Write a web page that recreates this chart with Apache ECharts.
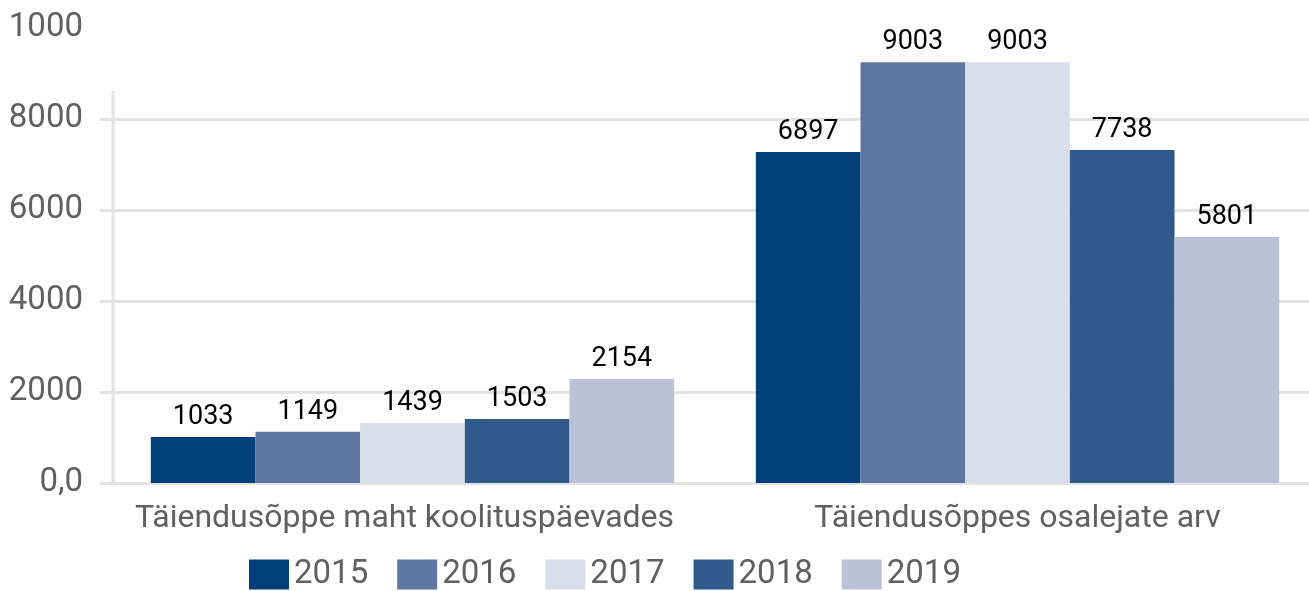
<!DOCTYPE html>
<html>
<head>
<meta charset="utf-8">
<script src="https://cdn.jsdelivr.net/npm/echarts@6/dist/echarts.min.js"></script>
<style>
  html, body { margin: 0; padding: 0; background: #fff; overflow: hidden; }
  #chart { width: 1320px; height: 591px; }
</style>
</head>
<body>
<div id="chart"></div>
<script>
// categories and series (bar heights as drawn, label texts as printed)
var categories = ['Täiendusõppe maht koolituspäevades', 'Täiendusõppes osalejate arv'];
var years = ['2015', '2016', '2017', '2018', '2019'];
var colors = ['#003f78', '#5e76a1', '#d9deea', '#30598c', '#bbc2d8'];
var heights2015 = [1010, 7275];
var heights2016 = [1125, 9250];
var heights2017 = [1320, 9250];
var heights2018 = [1405, 7320];
var heights2019 = [2285, 5405];
var labels2015 = ['1033', '6897'];
var labels2016 = ['1149', '9003'];
var labels2017 = ['1439', '9003'];
var labels2018 = ['1503', '7738'];
var labels2019 = ['2154', '5801'];
var yTickValues = [0, 2000, 4000, 6000, 8000, 10000];
var yTickLabels = ['0,0', '2000', '4000', '6000', '8000', '1000'];

var heights = [heights2015, heights2016, heights2017, heights2018, heights2019];
var labelTexts = [labels2015, labels2016, labels2017, labels2018, labels2019];

var FONT = 'Roboto';
var GRAY = '#606060';
var chart = echarts.init(document.getElementById('chart'));

var series = [];
for (var i = 0; i < years.length; i++) {
    (function(idx){
        series.push({
            name: years[idx],
            type: 'bar',
            barGap: '0%',
            barCategoryGap: '13.5%',
            itemStyle: { color: colors[idx] },
            label: {
                show: true,
                position: 'top',
                distance: 6,
                color: '#000',
                fontFamily: FONT,
                fontSize: 27,
                formatter: function(p){ return labelTexts[idx][p.dataIndex]; }
            },
            data: heights[idx]
        });
    })(i);
}

chart.setOption({
    animation: false,
    grid: { left: 110, top: 28, width: 1210, height: 455, containLabel: false },
    legend: {
        left: 249,
        top: 558,
        padding: 0,
        itemWidth: 40,
        itemHeight: 30,
        itemGap: 29,
        icon: 'rect',
        textStyle: { color: GRAY, fontFamily: FONT, fontSize: 33 },
        data: years
    },
    xAxis: {
        type: 'category',
        data: categories,
        axisLine: { show: true, lineStyle: { color: '#e3e3e3', width: 3 } },
        axisTick: { show: false },
        axisLabel: {
            interval: 0, color: GRAY, fontFamily: FONT, fontSize: 32, margin: 20,
            formatter: function(v, idx){ return idx === 0 ? '{a|' + v + '}' : '{b|' + v + '}'; },
            rich: {
                a: { color: GRAY, fontFamily: FONT, fontSize: 32, padding: [0, 16, 0, 0] },
                b: { color: GRAY, fontFamily: FONT, fontSize: 32 }
            }
        }
    },
    yAxis: {
        type: 'value',
        min: 0,
        max: 10000,
        interval: 2000,
        axisLine: { show: false },
        axisTick: {
            show: true, inside: false, length: 10,
            customValues: [0, 2000, 4000, 6000, 8000],
            lineStyle: { color: '#e3e3e3', width: 3 }
        },
        splitLine: { show: true, lineStyle: { color: ['#e3e3e3', '#e3e3e3', '#e3e3e3', '#e3e3e3', '#e3e3e3', 'rgba(0,0,0,0)'], width: 3 } },
        axisLabel: {
            color: GRAY, fontFamily: FONT, fontSize: 33, margin: 27,
            formatter: function(v){ return yTickLabels[yTickValues.indexOf(v)]; }
        }
    },
    graphic: [{
        type: 'line',
        shape: { x1: 113, y1: 91, x2: 113, y2: 483 },
        style: { stroke: '#e3e3e3', lineWidth: 3 },
        z: 0
    }],
    series: series
});
</script>
</body>
</html>
